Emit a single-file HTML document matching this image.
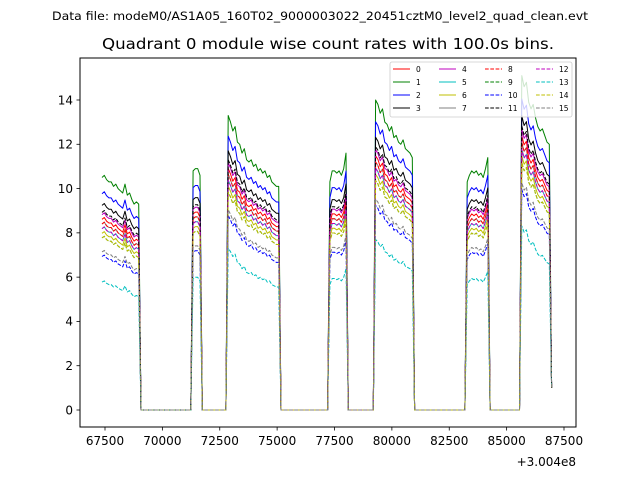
<!DOCTYPE html>
<html><head><meta charset="utf-8"><style>
html,body{margin:0;padding:0;background:#fff;}
svg text{font-family:"DejaVu Sans","Liberation Sans",sans-serif;}
</style></head><body>
<svg id="chart" width="640" height="480" viewBox="0 0 640 480" xmlns="http://www.w3.org/2000/svg">
<rect width="640" height="480" fill="#fff"/>
<text x="52" y="20" font-size="11.5" textLength="536" lengthAdjust="spacingAndGlyphs">Data file: modeM0/AS1A05_160T02_9000003022_20451cztM0_level2_quad_clean.evt</text>
<text x="102" y="49" font-size="15" textLength="452" lengthAdjust="spacingAndGlyphs">Quadrant 0 module wise count rates with 100.0s bins.</text>
<g id="plot"></g>
<rect x="80" y="58" width="496" height="369" fill="none" stroke="#000" stroke-width="1"/>
<g id="xticks"></g>
<g id="yticks"></g>
<text x="576" y="466" font-size="12" text-anchor="end">+3.004e8</text>
<g id="legend"></g>
</svg>
<script>
// ---- data ----
const segStarts = [67370, 71340, 72870, 77300, 79290, 83280, 85660];
const seg1 = [10.5,10.6,10.4,10.3,10.3,10.1,10.2,10.0,9.9,9.8,10.2,9.7,9.8,9.5,9.3,9.4,9.3];
const seg2 = [10.8,10.9,10.9,10.6];
const seg3 = [13.3,13.0,12.6,12.8,12.1,12.0,11.6,11.8,11.3,11.2,11.3,11.0,11.1,10.8,10.9,10.7,10.8,10.5,10.6,10.3,10.2,10.1,10.1];
const seg4 = [10.3,10.8,10.8,10.7,10.8,10.6,10.9,11.6];
const seg5 = [14.0,13.8,13.4,13.6,13.0,12.9,12.6,12.8,12.3,12.4,12.1,12.0,12.2,11.8,11.7,11.6,11.4];
const seg6 = [10.3,10.6,10.8,10.7,10.8,10.6,10.7,10.5,10.9,11.4];
const seg7 = [15.1,14.6,14.8,13.9,13.6,13.8,13.2,12.8,12.6,12.7,12.4,12.1,12.0];
const tailValue = 1.0;
const moduleScale = [0.82,1.0,0.93,0.88,0.84,0.78,0.76,0.80,0.80,0.74,0.66,0.85,0.78,0.55,0.74,0.68];
const moduleLabels = ["0","1","2","3","4","5","6","7","8","9","10","11","12","13","14","15"];
const moduleColors = ["#ff0000","#008000","#0000ff","#000000","#bf00bf","#00bfbf","#bfbf00","#808080","#ff0000","#008000","#0000ff","#000000","#bf00bf","#00bfbf","#bfbf00","#808080"];
const xTicks = [67500,70000,72500,75000,77500,80000,82500,85000,87500];
const yTicks = [0,2,4,6,8,10,12,14];
// ---- scales ----
const xs = t => 105 + (t - 67500) * 0.02295;
const ys = v => 410 - v * 22.143;
const NS = "http://www.w3.org/2000/svg";
function mk(tag, attrs, parent){const e=document.createElementNS(NS,tag);for(const k in attrs)e.setAttribute(k,attrs[k]);parent.appendChild(e);return e;}
const segs=[seg1,seg2,seg3,seg4,seg5,seg6,seg7];
const baseT=[], baseV=[];
segs.forEach((s,si)=>{
  if(si>0){baseT.push(segStarts[si]-100);baseV.push(0);}
  s.forEach((v,k)=>{baseT.push(segStarts[si]+100*k);baseV.push(v);});
  if(si<segs.length-1){baseT.push(segStarts[si]+100*s.length);baseV.push(0);}
  else{baseT.push(segStarts[si]+100*s.length);baseV.push(tailValue);}
});
const plot=document.getElementById('plot');
moduleScale.forEach((sc,m)=>{
  const pts=baseT.map((t,i)=>xs(t).toFixed(1)+","+ys(baseV[i]*(i===baseT.length-1?1:sc)).toFixed(1)).join(" ");
  const pl=mk('polyline',{points:pts,fill:"none",stroke:moduleColors[m],"stroke-width":1,"stroke-linejoin":"round"},plot);
  if(m>=8) pl.setAttribute('stroke-dasharray','3.7,1.6');
  
  
});
const xg=document.getElementById('xticks');
xTicks.forEach(t=>{
  const x=xs(t);
  const l=mk('line',{x1:x,x2:x,y1:427,y2:430.5,stroke:"#000","stroke-width":0.8},xg);
  
  
  const tx=mk('text',{x:x,y:445,"font-size":12,"text-anchor":"middle"},xg);
  tx.textContent=t;
  
  
});
const yg=document.getElementById('yticks');
yTicks.forEach(v=>{
  const y=ys(v);
  const l=mk('line',{x1:76.5,x2:80,y1:y,y2:y,stroke:"#000","stroke-width":0.8},yg);
  
  
  const tx=mk('text',{x:73,y:y+4.3,"font-size":12,"text-anchor":"end"},yg);
  tx.textContent=v;
  
  
});
const lg=document.getElementById('legend');
const box=mk('rect',{x:390,y:62,width:182,height:55,rx:2,fill:"#fff","fill-opacity":0.8,stroke:"#ccc","stroke-width":0.8},lg);


const colX=[393,439,485,536];
const rowY=[69,82,95,108];
moduleLabels.forEach((lab,m)=>{
  const c=Math.floor(m/4), r=m%4;
  const g=mk('g',{},lg);
  
  
  const ln=mk('line',{x1:colX[c],x2:colX[c]+17,y1:rowY[r],y2:rowY[r],stroke:moduleColors[m],"stroke-width":1},g);
  if(m>=8) ln.setAttribute('stroke-dasharray','3.7,1.6');
  const tx=mk('text',{x:colX[c]+23,y:rowY[r]+2.8,"font-size":7.5},g);
  tx.textContent=lab;
});
</script>
</body></html>
